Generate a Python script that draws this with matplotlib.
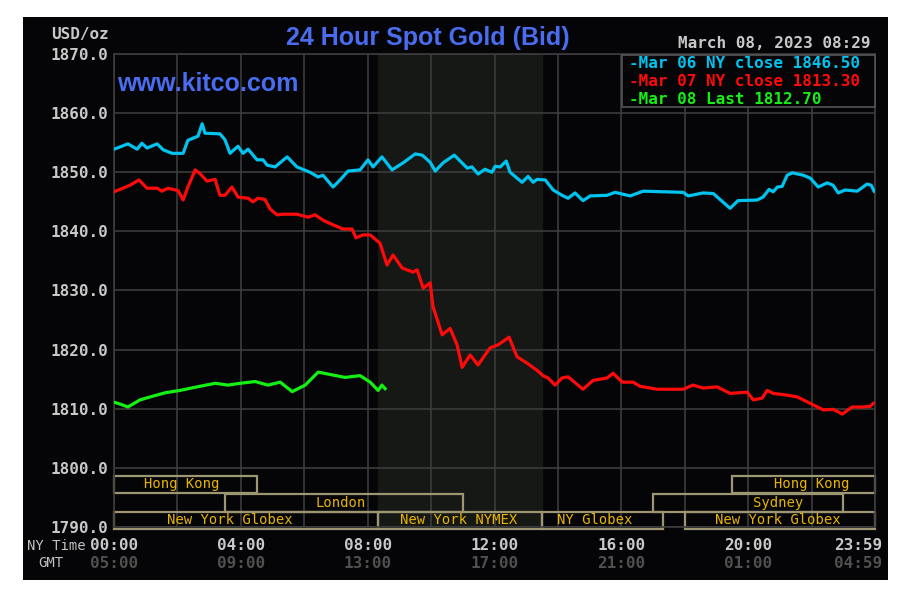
import matplotlib
matplotlib.use("Agg")
import matplotlib.pyplot as plt
from matplotlib.patches import Rectangle
from matplotlib.transforms import blended_transform_factory

# hours after midnight (NY time) and bid prices
mar06_hours = [0.00, 0.44, 0.73, 0.88, 1.04, 1.36, 1.55, 1.83, 2.18, 2.33, 2.65, 2.78, 2.87, 3.34, 3.50,
               3.66, 3.91, 4.07, 4.23, 4.51, 4.70, 4.83, 5.08, 5.46, 5.77, 6.18, 6.44, 6.59, 6.91, 7.13,
               7.38, 7.76, 8.01, 8.17, 8.45, 8.77, 9.12, 9.50, 9.72, 9.97, 10.13, 10.38, 10.73, 11.14,
               11.29, 11.48, 11.70, 11.92, 12.02, 12.18, 12.37, 12.49, 12.87, 13.06, 13.22, 13.34, 13.60,
               13.85, 14.13, 14.32, 14.54, 14.79, 15.02, 15.55, 15.80, 16.28, 16.69, 17.95, 18.11, 18.58,
               18.90, 19.43, 19.68, 20.28, 20.47, 20.66, 20.79, 20.92, 21.07, 21.23, 21.39, 21.74, 21.96,
               22.21, 22.49, 22.68, 22.84, 23.06, 23.44, 23.75, 23.88, 23.97]
mar06_price = [1853.9, 1854.8, 1853.9, 1854.9, 1854.1, 1854.8, 1853.8, 1853.2, 1853.2, 1855.4, 1856.1,
               1858.2, 1856.6, 1856.5, 1855.5, 1853.2, 1854.4, 1853.2, 1853.9, 1852.1, 1852.1, 1851.2,
               1850.9, 1852.6, 1850.9, 1850.0, 1849.2, 1849.5, 1847.5, 1848.7, 1850.2, 1850.4, 1852.1,
               1850.9, 1852.6, 1850.4, 1851.6, 1853.1, 1852.9, 1851.7, 1850.2, 1851.6, 1852.9, 1850.7,
               1850.9, 1849.7, 1850.5, 1850.0, 1851.0, 1850.9, 1851.9, 1850.0, 1848.3, 1849.3, 1848.3,
               1848.8, 1848.7, 1847.0, 1846.1, 1845.6, 1846.5, 1845.2, 1846.0, 1846.1, 1846.6, 1846.0,
               1846.8, 1846.6, 1846.0, 1846.5, 1846.4, 1843.9, 1845.2, 1845.3, 1845.8, 1847.1, 1846.7,
               1847.5, 1847.6, 1849.5, 1849.9, 1849.5, 1849.0, 1847.5, 1848.2, 1847.8, 1846.5, 1847.0,
               1846.8, 1848.0, 1847.8, 1846.8]

mar07_hours = [0.00, 0.28, 0.50, 0.79, 1.04, 1.36, 1.51, 1.70, 2.02, 2.18, 2.33, 2.56, 2.71, 2.93, 3.19,
               3.34, 3.50, 3.72, 3.91, 4.23, 4.38, 4.54, 4.76, 4.92, 5.14, 5.33, 5.77, 6.12, 6.34, 6.59,
               6.91, 7.22, 7.51, 7.63, 7.85, 8.08, 8.39, 8.61, 8.80, 9.09, 9.43, 9.56, 9.75, 9.97, 10.06,
               10.35, 10.60, 10.82, 10.98, 11.23, 11.48, 11.86, 12.11, 12.46, 12.71, 13.03, 13.34, 13.53,
               13.69, 13.91, 14.13, 14.32, 14.79, 15.11, 15.55, 15.74, 16.03, 16.37, 16.59, 17.13, 17.95,
               18.26, 18.58, 19.02, 19.43, 19.97, 20.16, 20.44, 20.60, 20.79, 21.23, 21.55, 21.96, 22.37,
               22.68, 22.97, 23.28, 23.60, 23.85, 23.94]
mar07_price = [1846.7, 1847.3, 1847.8, 1848.7, 1847.3, 1847.3, 1846.8, 1847.3, 1846.9, 1845.3, 1847.5,
               1850.4, 1849.8, 1848.5, 1848.8, 1846.1, 1846.1, 1847.5, 1845.8, 1845.6, 1845.0, 1845.6,
               1845.4, 1843.8, 1842.8, 1842.9, 1842.9, 1842.4, 1842.8, 1841.9, 1841.1, 1840.4, 1840.4,
               1838.9, 1839.4, 1839.4, 1838.0, 1834.3, 1836.0, 1833.8, 1833.1, 1833.5, 1830.4, 1831.3,
               1827.3, 1822.5, 1823.6, 1820.8, 1817.0, 1819.1, 1817.4, 1820.3, 1820.8, 1822.1, 1818.8,
               1817.7, 1816.5, 1815.6, 1815.2, 1814.0, 1815.2, 1815.4, 1813.3, 1814.8, 1815.2, 1816.0,
               1814.5, 1814.5, 1813.8, 1813.3, 1813.3, 1814.0, 1813.5, 1813.7, 1812.6, 1812.8, 1811.5,
               1811.8, 1813.1, 1812.6, 1812.3, 1812.0, 1810.9, 1809.8, 1809.9, 1809.1, 1810.3, 1810.3,
               1810.4, 1810.9]

mar08_hours = [0.00, 0.19, 0.44, 0.82, 1.14, 1.61, 2.08, 2.71, 3.19, 3.60, 3.97, 4.45, 4.86, 5.24, 5.62,
               6.03, 6.44, 6.81, 7.29, 7.76, 8.08, 8.33, 8.45, 8.55]
mar08_price = [1811.1, 1810.8, 1810.3, 1811.5, 1812.0, 1812.7, 1813.1, 1813.8, 1814.3, 1814.0, 1814.3,
               1814.6, 1814.0, 1814.5, 1812.9, 1814.0, 1816.2, 1815.8, 1815.3, 1815.6, 1814.5, 1813.1,
               1814.0, 1813.4]

legend_labels = ["-Mar 06 NY close 1846.50", "-Mar 07 NY close 1813.30", "-Mar 08 Last 1812.70"]

# trading sessions: (start hour, end hour, row, label, label position)
sessions = [
    (0.0, 4.5, 0, "Hong Kong", 2.15),
    (19.5, 24.0, 0, "Hong Kong", 22.0),
    (3.5, 11.0, 1, "London", 7.16),
    (17.0, 23.0, 1, "Sydney", 20.95),
    (0.0, 8.33, 2, "New York Globex", 3.66),
    (8.33, 13.5, 2, "New York NYMEX", 10.88),
    (13.5, 17.3, 2, "NY Globex", 15.17),
    (18.0, 24.0, 2, "New York Globex", 20.95),
]
nymex_open, nymex_close = 8.33, 13.5

ny_ticks = [0, 4, 8, 12, 16, 20, 23.47]
ny_labels = ["00:00", "04:00", "08:00", "12:00", "16:00", "20:00", "23:59"]
gmt_labels = ["05:00", "09:00", "13:00", "17:00", "21:00", "01:00", "04:59"]

W, H = 910, 598
def fx(px):
    return px / W
def fy(py):
    return 1 - py / H

mono = "DejaVu Sans Mono"
label_grey = "#c8c8c8"

fig = plt.figure(figsize=(W / 100, H / 100), dpi=100, facecolor="white")
fig.patches.append(Rectangle((fx(23), fy(580)), fx(888) - fx(23), fy(17) - fy(580),
                             transform=fig.transFigure, facecolor="#050507", edgecolor="none", zorder=-5))

ax = fig.add_axes([fx(114), fy(527), fx(875) - fx(114), fy(54) - fy(527)])
ax.set_facecolor("#050507")
ax.set_xlim(0, 24)
ax.set_ylim(1790, 1870)

ax.axvspan(nymex_open, nymex_close, color="#161815", zorder=0)

ax.set_xticks(range(0, 25, 2))
ax.set_yticks(range(1790, 1871, 10))
ax.grid(True, color="#3c3c3c", lw=1.2, zorder=1)
ax.tick_params(length=0, labelbottom=False)
ax.set_yticklabels(["%.1f" % v for v in range(1790, 1871, 10)],
                   family=mono, weight="bold", size=11.5, color=label_grey)
ax.tick_params(axis="y", pad=4)
for s in ax.spines.values():
    s.set_color("#3c3c3c")
    s.set_linewidth(1.2)

ax.plot(mar06_hours, mar06_price, color="#00c4f0", lw=2.3, zorder=3)
ax.plot(mar07_hours, mar07_price, color="#ff0a0a", lw=2.3, zorder=3)
ax.plot(mar08_hours, mar08_price, color="#14f014", lw=2.3, zorder=3)

# session boxes
row_span = [(1795.7, 1798.7), (1792.6, 1795.55), (1789.7, 1792.5)]
for start, end, row, name, tx in sessions:
    y0, y1 = row_span[row]
    ax.add_patch(Rectangle((start, y0), end - start, y1 - y0, facecolor="none",
                           edgecolor="#9c9672", lw=1.6, zorder=2, clip_on=False))
    ax.text(tx, (y0 + y1) / 2, name, family=mono, size=10, color="#e8b400",
            ha="center", va="center", zorder=4)

# legend
fig.patches.append(Rectangle((fx(622), fy(107)), fx(875) - fx(622), fy(55) - fy(107),
                             transform=fig.transFigure, facecolor="#050507",
                             edgecolor="#555555", lw=1.2, zorder=5))
for lab, col, py in zip(legend_labels, ["#00c4f0", "#ff0a0a", "#14f014"], [63, 81, 99]):
    fig.text(fx(629), fy(py), lab, family=mono, weight="bold", size=11.5, color=col,
             ha="left", va="center", zorder=6)

# x labels, NY time and GMT
tr = blended_transform_factory(ax.transData, fig.transFigure)
for x, a, b in zip(ny_ticks, ny_labels, gmt_labels):
    fig.text(x, fy(545), a, transform=tr, family=mono, weight="bold", size=11.5,
             color=label_grey, ha="center", va="center")
    fig.text(x, fy(563), b, transform=tr, family=mono, weight="bold", size=11.5,
             color="#505050", ha="center", va="center")
fig.text(fx(56), fy(546), "NY Time", family=mono, size=10, color="#c0c0c0", ha="center", va="center")
fig.text(fx(51), fy(563), "GMT", family=mono, size=10, color="#c0c0c0", ha="center", va="center")

fig.text(fx(80), fy(34), "USD/oz", family=mono, weight="bold", size=11.5, color=label_grey,
         ha="center", va="center")
fig.text(fx(428), fy(38), "24 Hour Spot Gold (Bid)", family="Liberation Sans", weight="bold",
         size=18, color="#4a6cf0", ha="center", va="center")
fig.text(fx(117), fy(84), "www.kitco.com", family="Liberation Sans", weight="bold", size=18,
         color="#4a6cf0", ha="left", va="center", zorder=6)
fig.text(fx(870), fy(44), "March 08, 2023 08:29", family=mono, weight="bold", size=11.5,
         color=label_grey, ha="right", va="center")

fig.savefig("out.png", dpi=100, facecolor="white")
